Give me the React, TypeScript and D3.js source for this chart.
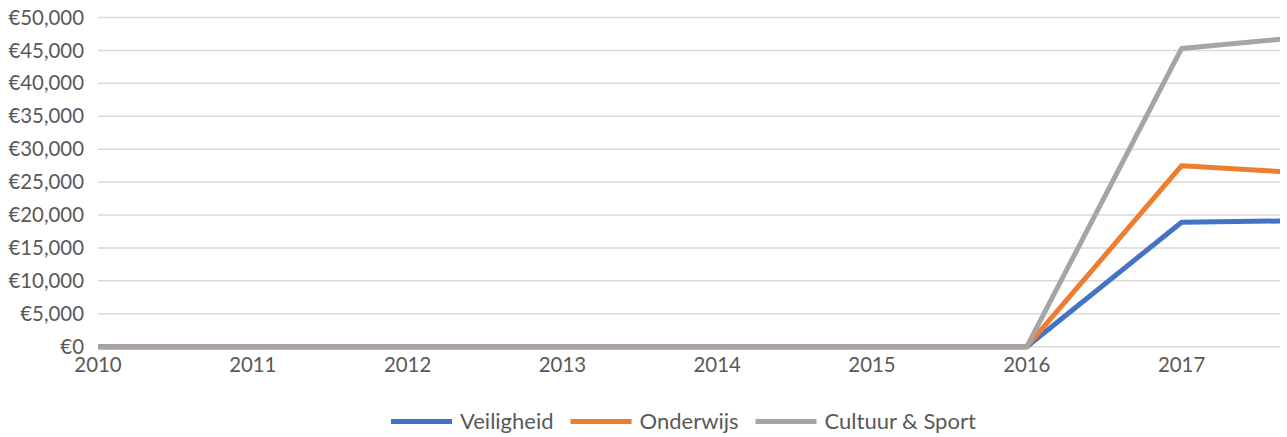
import React, { useEffect, useRef } from "react";
import * as d3 from "d3";

const years = ["2010", "2011", "2012", "2013", "2014", "2015", "2016", "2017", "2018"];
const veiligheid = [0, 0, 0, 0, 0, 0, 0, 18900, 19200];
const onderwijs = [0, 0, 0, 0, 0, 0, 0, 27500, 26100];
const cultuurSport = [0, 0, 0, 0, 0, 0, 0, 45300, 47500];
const yTicks = [0, 5000, 10000, 15000, 20000, 25000, 30000, 35000, 40000, 45000, 50000];

const series = [
  { name: "Veiligheid", values: veiligheid, color: "#4472C4" },
  { name: "Onderwijs", values: onderwijs, color: "#ED7D31" },
  { name: "Cultuur & Sport", values: cultuurSport, color: "#A5A5A5" },
];

const App = () => {
  const svgRef = useRef<SVGSVGElement>(null);

  useEffect(() => {
    document.body.style.margin = "0";
    document.body.style.overflow = "hidden";
    const svg = d3.select(svgRef.current);
    svg.selectAll("*").remove();
    const width = 1287;
    const height = 437;
    const plotLeft = 98;
    const plotRight = 1280;
    const step = 154.8;
    const textColor = "#595959";
    const font = "Lato, 'Open Sans', sans-serif";

    const x = d3
      .scalePoint<string>()
      .domain(years)
      .range([plotLeft, plotLeft + step * (years.length - 1)]);
    const y = d3.scaleLinear().domain([0, 50000]).range([346.7, 17.5]);

    svg.attr("width", width).attr("height", height);

    svg
      .append("defs")
      .append("clipPath")
      .attr("id", "plotClip")
      .append("rect")
      .attr("x", 0)
      .attr("y", 0)
      .attr("width", plotRight)
      .attr("height", height);

    // gridlines
    svg
      .append("g")
      .selectAll("line")
      .data(yTicks)
      .enter()
      .append("line")
      .attr("x1", plotLeft)
      .attr("x2", plotRight)
      .attr("y1", (d) => y(d))
      .attr("y2", (d) => y(d))
      .attr("stroke", "#D9D9D9")
      .attr("stroke-width", 1.5);

    // y labels
    const euro = (v: number) => "€" + d3.format(",")(v);
    svg
      .append("g")
      .selectAll("text")
      .data(yTicks)
      .enter()
      .append("text")
      .attr("x", 84)
      .attr("y", (d) => y(d))
      .attr("dy", "0.35em")
      .attr("text-anchor", "end")
      .attr("fill", textColor)
      .attr("font-family", font)
      .attr("font-size", 20.4)
      .text((d) => euro(d));

    // x labels
    svg
      .append("g")
      .selectAll("text")
      .data(years.filter((d) => x(d)! < plotRight))
      .enter()
      .append("text")
      .attr("x", (d) => x(d)!)
      .attr("y", 372)
      .attr("text-anchor", "middle")
      .attr("fill", textColor)
      .attr("font-family", font)
      .attr("font-size", 20.4)
      .text((d) => d);

    // lines
    const line = d3
      .line<number>()
      .x((_, i) => x(years[i])!)
      .y((d) => y(d));

    svg
      .append("g")
      .attr("clip-path", "url(#plotClip)")
      .selectAll("path")
      .data(series)
      .enter()
      .append("path")
      .attr("fill", "none")
      .attr("stroke", (d) => d.color)
      .attr("stroke-width", 5)
      .attr("stroke-linejoin", "round")
      .attr("d", (d) => line(d.values));

    // legend
    const legend = svg.append("g");
    const items = legend
      .selectAll("g")
      .data(series)
      .enter()
      .append("g");
    items
      .append("line")
      .attr("x1", 0)
      .attr("x2", 61)
      .attr("y1", 0)
      .attr("y2", 0)
      .attr("stroke", (d) => d.color)
      .attr("stroke-width", 5);
    items
      .append("text")
      .attr("x", 69)
      .attr("dy", "0.35em")
      .attr("fill", textColor)
      .attr("font-family", font)
      .attr("font-size", 22)
      .text((d) => d.name);

    let offset = 0;
    const positions: number[] = [];
    items.each(function () {
      const t = d3.select(this).select("text").node() as SVGTextElement;
      positions.push(offset);
      offset += 69 + t.getComputedTextLength() + 17;
    });
    const total = offset - 17;
    const start = 683.4 - total / 2;
    items.attr("transform", (_, i) => `translate(${start + positions[i]}, 421.5)`);
  }, []);

  return (
    <div>
      <svg ref={svgRef} style={{ display: "block" }}></svg>
    </div>
  );
};

export default App;
